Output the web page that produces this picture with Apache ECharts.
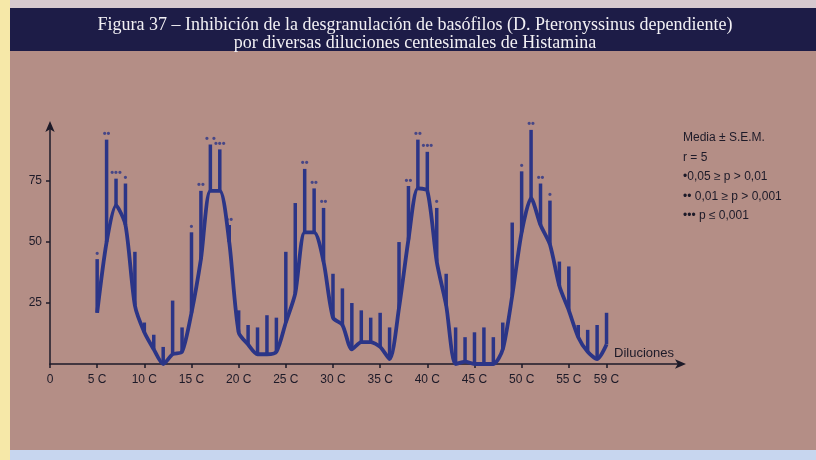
<!DOCTYPE html>
<html><head><meta charset="utf-8">
<script src="https://cdn.jsdelivr.net/npm/echarts@6/dist/echarts.min.js"></script>
<style>html,body{margin:0;padding:0;background:#b48e86}#c{width:816px;height:460px}</style>
</head><body><div id="c"></div>
<script>
// Dilutions (centesimal), 5C .. 59C
const dilutions = [5,6,7,8,9,10,11,12,13,14,15,16,17,18,19,20,21,22,23,24,25,26,27,28,29,30,31,32,33,34,35,36,37,38,39,40,41,42,43,44,45,46,47,48,49,50,51,52,53,54,55,56,57,58,59];
// Mean inhibition (%)
const means = [21,50,65,57,24,13,6,0,4,5,21,43,71,71,50,13,8,4,4,5,17,29,54,54,42,19,16,6,9,9,7,2,23,51,72,71,42,24,0,1,0,0,0,6,28,54,68,57,49,32,22,11,5,2,8];
// Mean + S.E.M.
const uppers = [43,92,76,74,46,17,12,7,26,15,54,71,90,88,57,22,16,15,20,19,46,66,80,72,64,37,31,25,22,19,21,15,50,73,92,87,64,37,15,11,13,15,11,17,58,79,96,74,67,42,40,16,14,16,21];
// Significance marks
const stars = ['•','••','•••','•','','','','','','','•','••','• •','•••','••','','','','','','','','••','••','••','','','','','','','','','••','••','•••','•','','','','','','','','','•','••','••','•','','','','','',''];
const xTickValues = [0,5,10,15,20,25,30,35,40,45,50,55,59];
const xTickLabels = ['0','5 C','10 C','15 C','20 C','25 C','30 C','35 C','40 C','45 C','50 C','55 C','59 C'];
const yTickValues = [25,50,75];

const navy = '#2b3587';
const ink = '#1d1a28';

const lineData = dilutions.map((d,i)=>[d,means[i]]);
const barData = dilutions.map((d,i)=>[d,means[i],uppers[i]]);
const starData = dilutions.map((d,i)=>[d,uppers[i],stars[i]]).filter(r=>r[2]);

const chart = echarts.init(document.getElementById('c'), null, {renderer:'canvas'});
chart.setOption({
  backgroundColor:'#b48e86',
  animation:false,
  graphic:[
    {type:'rect', left:0, top:0, shape:{width:816,height:9}, style:{fill:'#d6c9cf'}, z:-1},
    {type:'rect', left:0, top:450, shape:{width:816,height:10}, style:{fill:'#c7d6ef'}, z:-1},
    {type:'rect', left:10, top:8, shape:{width:806,height:43}, style:{fill:'#1d1c47'}, z:-1},
    {type:'rect', left:0, top:0, shape:{width:10,height:460}, style:{fill:'#f6e8a8'}, z:-1},
    {type:'text', left:683, top:128, style:{text:'Media ± S.E.M.\nr = 5\n•0,05 ≥ p > 0,01\n•• 0,01 ≥ p > 0,001\n••• p ≤ 0,001', fill:ink, font:'12px "Liberation Sans", Arial, sans-serif', lineHeight:19.5}},
    {type:'text', left:614, top:347, style:{text:'Diluciones', fill:ink, font:'13px "Liberation Sans", Arial, sans-serif'}}
  ],
  title:{
    text:'Figura 37 – Inhibición de la desgranulación de basófilos (D. Pteronyssinus dependiente)\npor diversas diluciones centesimales de Histamina',
    left:410, textAlign:'center', top:11,
    textStyle:{color:'#f2f0f4', fontFamily:'"Liberation Serif", "DejaVu Serif", serif', fontSize:18, fontWeight:'normal', lineHeight:18}
  },
  grid:{left:50, right:134, top:125, bottom:96, containLabel:false},
  xAxis:{
    type:'value', min:0, max:67,
    axisLine:{show:true, lineStyle:{color:ink, width:1.5}, symbol:['none','arrow'], symbolSize:[7,11], symbolOffset:[0,4]},
    axisTick:{show:true, customValues:xTickValues, length:4, inside:false, lineStyle:{color:ink, width:1.5}},
    axisLabel:{customValues:xTickValues, formatter:v=>xTickLabels[xTickValues.indexOf(v)], color:ink, fontSize:12, margin:10, fontFamily:'"Liberation Sans", Arial, sans-serif'},
    splitLine:{show:false}
  },
  yAxis:{
    type:'value', min:0, max:98,
    axisLine:{show:true, lineStyle:{color:ink, width:1.5}, symbol:['none','arrow'], symbolSize:[7,11], symbolOffset:[0,4]},
    axisTick:{show:true, customValues:yTickValues, length:4, lineStyle:{color:ink, width:1.5}},
    axisLabel:{customValues:yTickValues, color:ink, fontSize:12, margin:8, fontFamily:'"Liberation Sans", Arial, sans-serif'},
    splitLine:{show:false}
  },
  series:[
    {type:'custom', data:barData, renderItem:(params, api)=>{
      const p1 = api.coord([api.value(0), api.value(1)]);
      const p2 = api.coord([api.value(0), api.value(2)]);
      return {type:'line', shape:{x1:p1[0],y1:p1[1],x2:p2[0],y2:p2[1]}, style:{stroke:navy, lineWidth:3.5}};
    }, z:3},
    {type:'line', data:lineData, showSymbol:false, smooth:0.25, lineStyle:{color:navy, width:3.8}, z:4},
    {type:'scatter', data:starData, symbolSize:0, label:{show:true, position:'top', distance:0, formatter:p=>p.data[2], color:navy, fontSize:11, fontWeight:'bold'}, z:5}
  ]
});
</script>
</body></html>
